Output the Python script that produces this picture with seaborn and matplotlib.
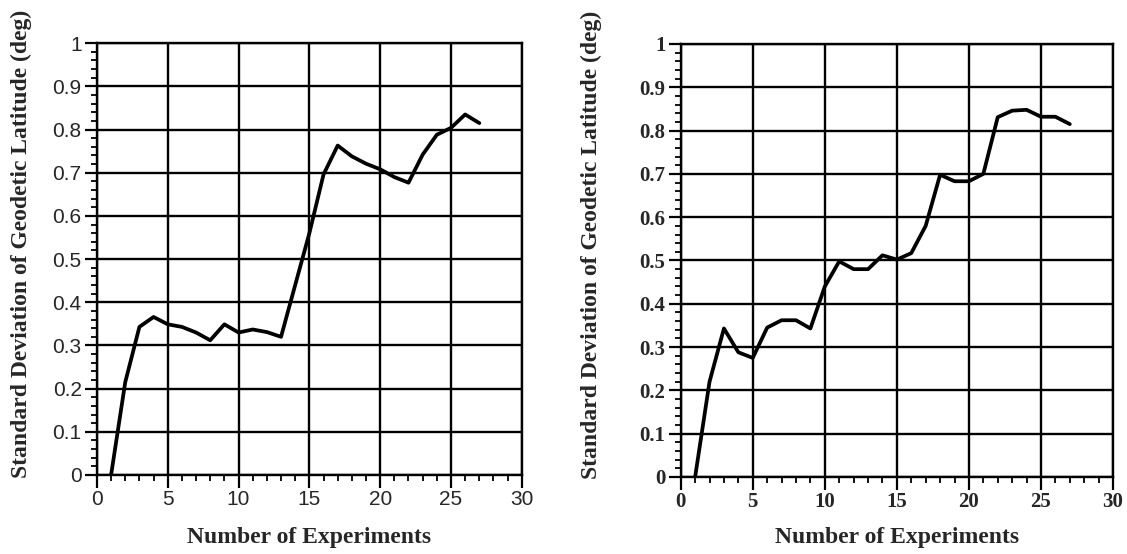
import numpy as np
import pandas as pd
import matplotlib
matplotlib.use("Agg")
import matplotlib.pyplot as plt
from matplotlib.ticker import MultipleLocator
import seaborn as sns

# Number of experiments (common x values)
experiments = list(range(1, 28))

# Standard deviation of geodetic latitude (deg), left case
sd_left = [0.0, 0.215, 0.343, 0.366, 0.349, 0.343, 0.330, 0.312, 0.349, 0.330,
           0.337, 0.331, 0.320, 0.440, 0.560, 0.696, 0.763, 0.738, 0.721, 0.708,
           0.690, 0.677, 0.742, 0.788, 0.804, 0.835, 0.815]

# Standard deviation of geodetic latitude (deg), right case
sd_right = [0.0, 0.220, 0.343, 0.288, 0.275, 0.345, 0.362, 0.362, 0.343, 0.440,
            0.498, 0.480, 0.480, 0.512, 0.502, 0.517, 0.580, 0.698, 0.683, 0.683,
            0.700, 0.831, 0.846, 0.848, 0.832, 0.832, 0.815]

x_ticks = [0, 5, 10, 15, 20, 25, 30]
y_ticks = [0, 0.1, 0.2, 0.3, 0.4, 0.5, 0.6, 0.7, 0.8, 0.9, 1]
y_tick_labels = ["0", "0.1", "0.2", "0.3", "0.4", "0.5", "0.6", "0.7", "0.8", "0.9", "1"]

x_label = "Number of Experiments"
y_label = "Standard Deviation of Geodetic Latitude (deg)"

sns.set_style("ticks")
plt.rcParams["font.family"] = ["Liberation Serif", "DejaVu Serif"]

fig = plt.figure(figsize=(11.27, 5.54), dpi=100)
ax_left = fig.add_axes([0.086, 0.1426, 0.377, 0.7794])
ax_right = fig.add_axes([0.604, 0.139, 0.3836, 0.7816])

label_font = dict(family="Liberation Serif", weight="bold", size=17)

panels = [
    (ax_left, sd_left, dict(family="Liberation Sans", size=15), -0.153, -0.12),
    (ax_right, sd_right, dict(family="Liberation Serif", weight="bold", size=15),
     -0.183, -0.115),
]

for ax, values, tick_font, ylab_x, xlab_y in panels:
    df = pd.DataFrame({"n": experiments, "sd": values})
    sns.lineplot(data=df, x="n", y="sd", ax=ax, color="black", linewidth=2.7,
                 zorder=3)
    ax.set_xlim(0, 30)
    ax.set_ylim(0, 1)
    ax.set_xticks(x_ticks)
    ax.set_xticklabels([str(t) for t in x_ticks], fontdict=tick_font)
    ax.set_yticks(y_ticks)
    ax.set_yticklabels(y_tick_labels, fontdict=tick_font)
    ax.xaxis.set_minor_locator(MultipleLocator(1))
    ax.yaxis.set_minor_locator(MultipleLocator(0.02))
    ax.grid(True, which="major", color="black", linewidth=1.7)
    ax.tick_params(which="major", direction="out", length=9, width=1.6,
                   color="black", pad=2)
    ax.tick_params(which="minor", direction="out", length=4.5, width=1.3,
                   color="black")
    for side in ["top", "right", "bottom", "left"]:
        ax.spines[side].set_visible(True)
        ax.spines[side].set_color("black")
        ax.spines[side].set_linewidth(1.7)
    ax.set_xlabel(x_label, fontdict=label_font)
    ax.xaxis.set_label_coords(0.5, xlab_y)
    ax.set_ylabel(y_label, fontdict=label_font)
    ax.yaxis.set_label_coords(ylab_x, 0.535)

fig.savefig("out.png", dpi=100, facecolor="white")
